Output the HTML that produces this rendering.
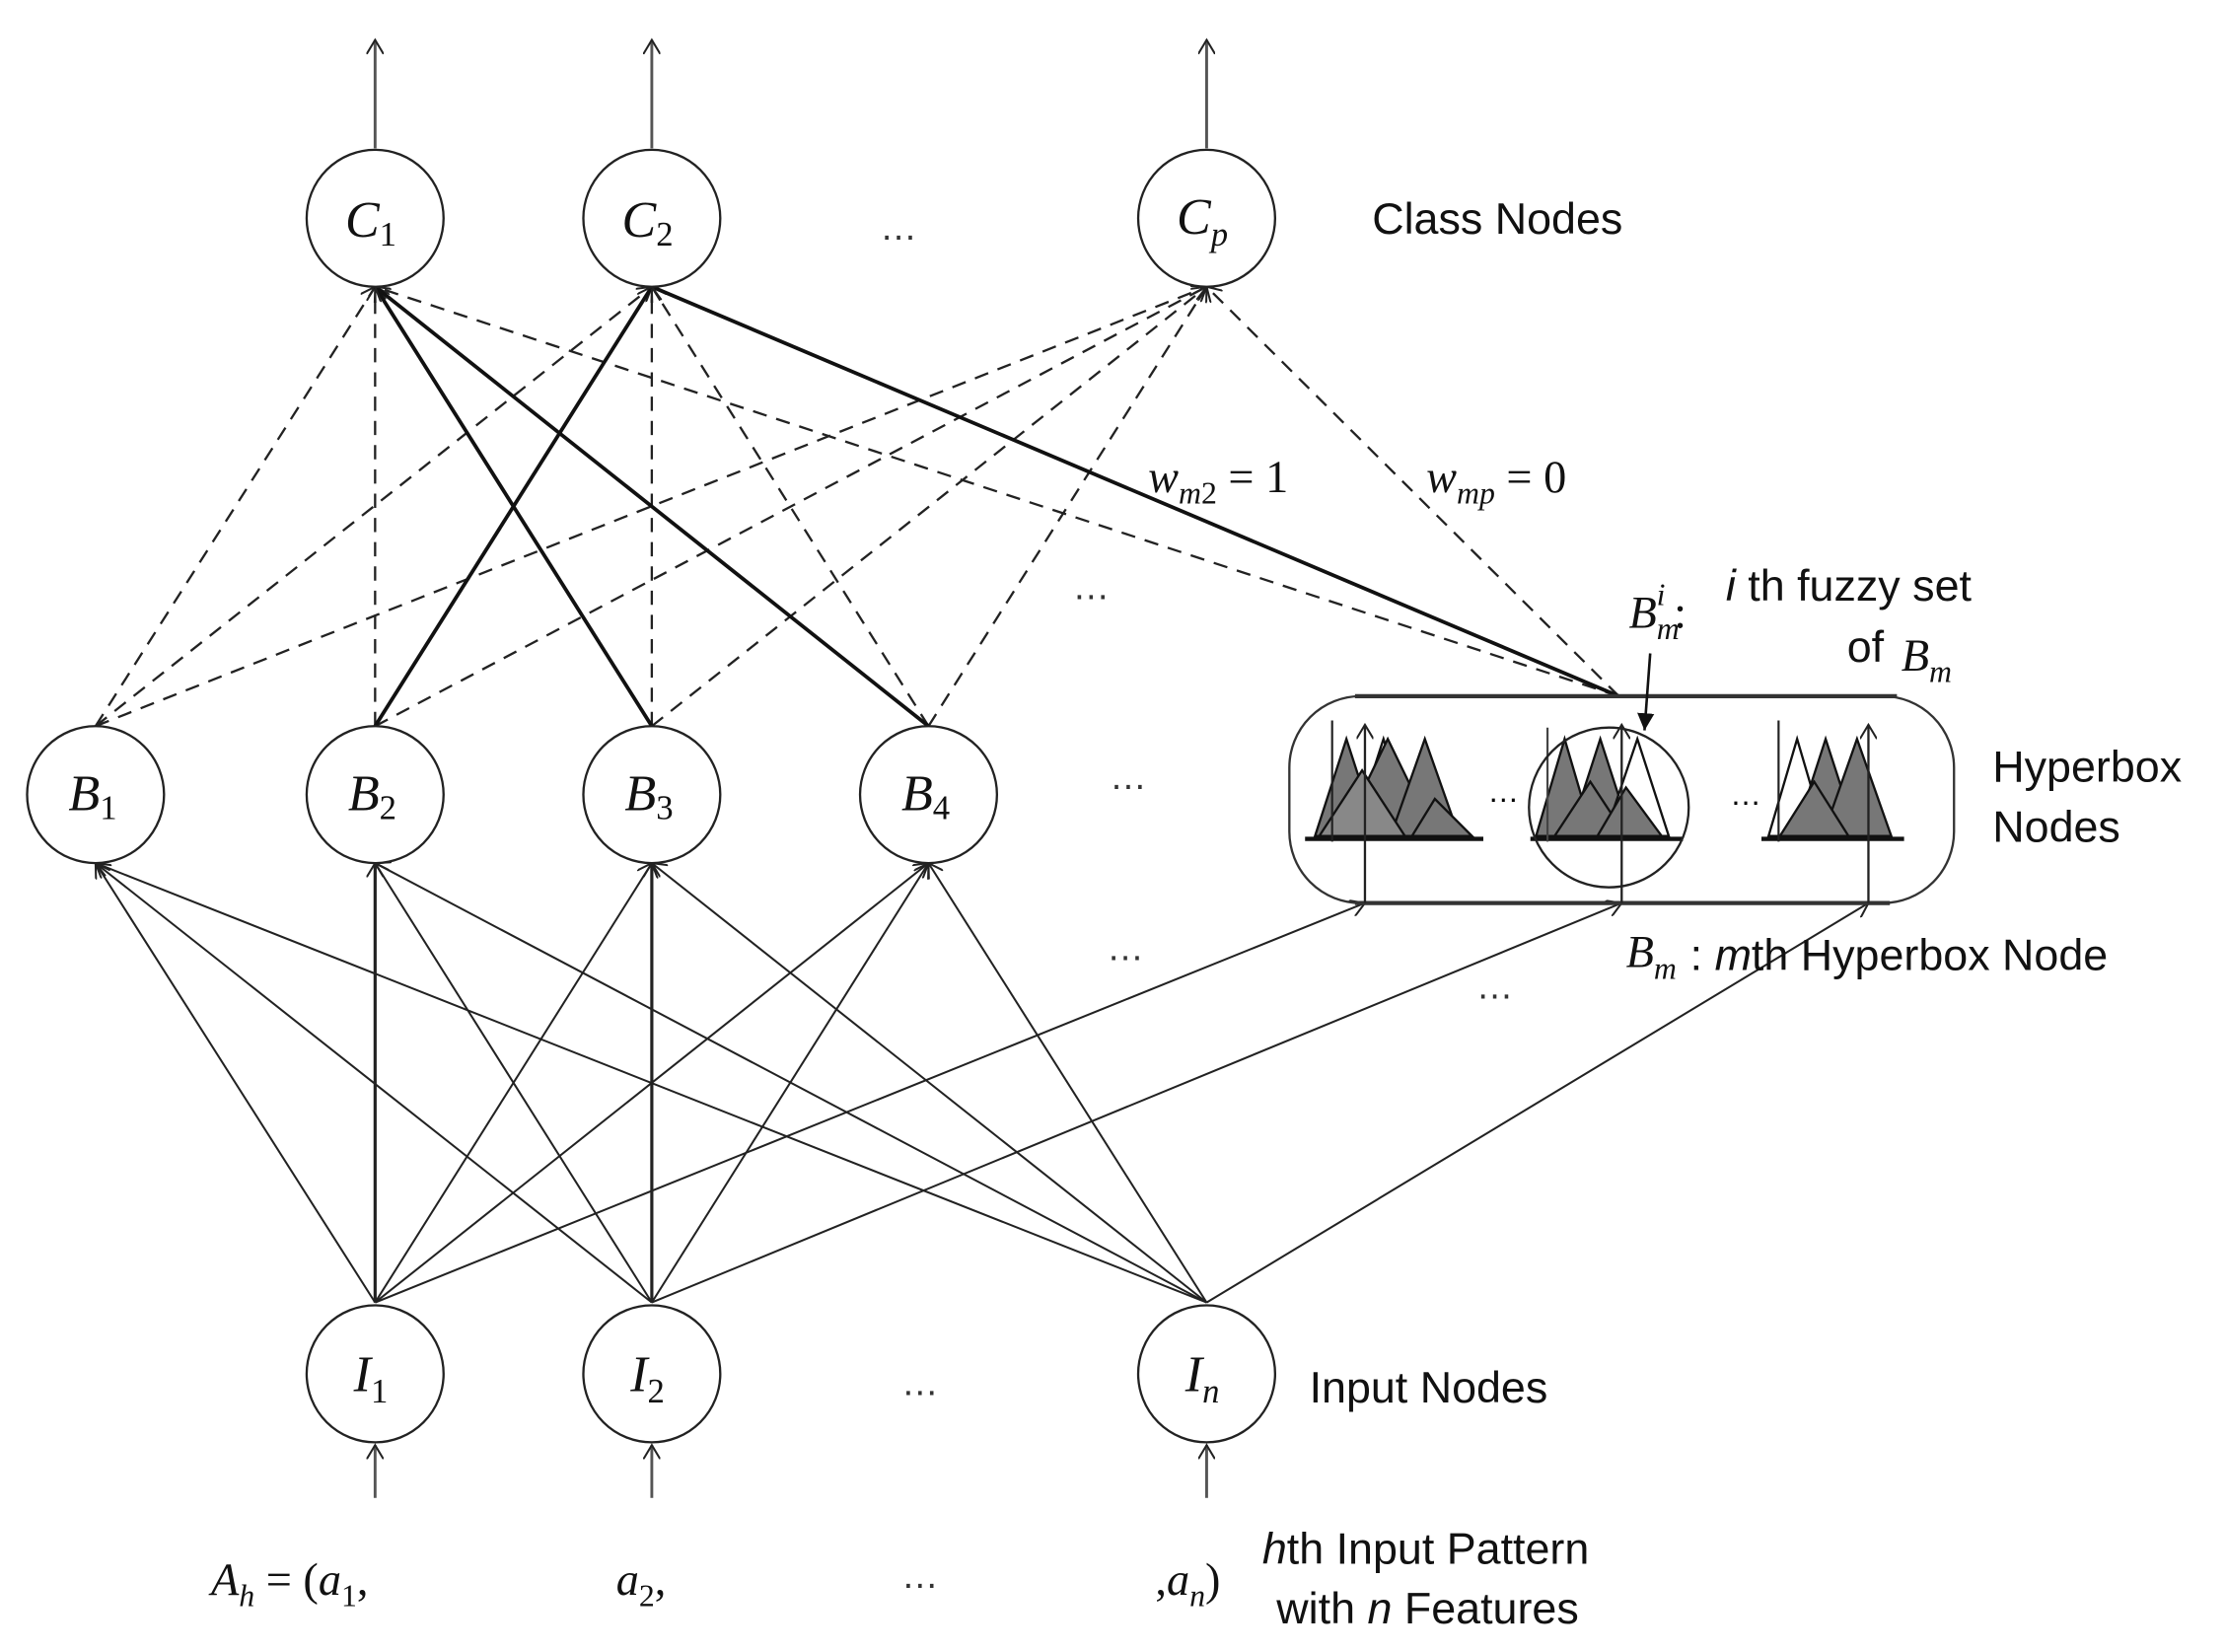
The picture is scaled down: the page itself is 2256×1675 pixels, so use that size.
<!DOCTYPE html>
<html><head><meta charset="utf-8"><style>
html,body{margin:0;padding:0;background:#fff;}
svg{display:block;}
text{font-family:"Liberation Sans",sans-serif;}
text.n,text.m{font-family:"Liberation Serif",serif;font-style:italic;}
.u{font-style:normal;}
</style></head><body>
<svg width="2256" height="1675" viewBox="0 0 1560 1158" preserveAspectRatio="none" xmlns="http://www.w3.org/2000/svg">
<defs>
<marker id="a" markerWidth="12" markerHeight="12" refX="10" refY="6" orient="auto" markerUnits="userSpaceOnUse">
<path d="M0,0 L10,6 L0,12" fill="none" stroke="#222" stroke-width="1.4"/></marker>
<marker id="f" markerWidth="14" markerHeight="12" refX="12" refY="6" orient="auto" markerUnits="userSpaceOnUse">
<path d="M0,0 L12,6 L0,12 z" fill="#111"/></marker>
</defs>
<rect width="1560" height="1158" fill="#fff"/>
<g stroke="#555" stroke-width="2" fill="none" marker-end="url(#a)">
<line x1="263" y1="104" x2="263" y2="28"/>
<line x1="457" y1="104" x2="457" y2="28"/>
<line x1="846" y1="104" x2="846" y2="28"/>
<line x1="263" y1="1050" x2="263" y2="1013"/>
<line x1="457" y1="1050" x2="457" y2="1013"/>
<line x1="846" y1="1050" x2="846" y2="1013"/>
</g>
<g stroke="#222" stroke-width="1.6" stroke-dasharray="10,7" fill="none" marker-end="url(#a)">
<line x1="67" y1="509" x2="263" y2="201"/>
<line x1="67" y1="509" x2="457" y2="201"/>
<line x1="67" y1="509" x2="846" y2="201"/>
<line x1="263" y1="509" x2="263" y2="201"/>
<line x1="263" y1="509" x2="846" y2="201"/>
<line x1="457" y1="509" x2="457" y2="201"/>
<line x1="457" y1="509" x2="846" y2="201"/>
<line x1="651" y1="509" x2="457" y2="201"/>
<line x1="651" y1="509" x2="846" y2="201"/>
<line x1="1135" y1="488" x2="263" y2="201"/>
<line x1="1135" y1="488" x2="846" y2="201"/>
</g>
<g stroke="#111" stroke-width="2.6" fill="none" marker-end="url(#a)">
<line x1="263" y1="509" x2="457" y2="201"/>
<line x1="457" y1="509" x2="263" y2="201"/>
<line x1="651" y1="509" x2="263" y2="201"/>
<line x1="1135" y1="488" x2="457" y2="201"/>
</g>
<g stroke="#222" stroke-width="1.4" fill="none" marker-end="url(#a)">
<line x1="263" y1="913" x2="67" y2="605"/>
<line x1="263" y1="913" x2="263" y2="605" stroke-width="2.2"/>
<line x1="263" y1="913" x2="457" y2="605"/>
<line x1="263" y1="913" x2="651" y2="605"/>
<line x1="263" y1="913" x2="957" y2="633"/>
<line x1="457" y1="913" x2="67" y2="605"/>
<line x1="457" y1="913" x2="263" y2="605"/>
<line x1="457" y1="913" x2="457" y2="605" stroke-width="2.2"/>
<line x1="457" y1="913" x2="651" y2="605"/>
<line x1="457" y1="913" x2="1137" y2="633"/>
<line x1="846" y1="913" x2="67" y2="605"/>
<line x1="846" y1="913" x2="263" y2="605"/>
<line x1="846" y1="913" x2="457" y2="605"/>
<line x1="846" y1="913" x2="651" y2="605"/>
<line x1="846" y1="913" x2="1310" y2="633"/>
</g>
<g stroke="#222" stroke-width="1.6" fill="#fff">
<circle cx="263" cy="153" r="48"/><circle cx="457" cy="153" r="48"/><circle cx="846" cy="153" r="48"/>
<circle cx="67" cy="557" r="48"/><circle cx="263" cy="557" r="48"/><circle cx="457" cy="557" r="48"/><circle cx="651" cy="557" r="48"/>
<circle cx="263" cy="963" r="48"/><circle cx="457" cy="963" r="48"/><circle cx="846" cy="963" r="48"/>
</g>
<g font-size="36" text-anchor="middle" fill="#111">
<text x="260" y="166" class="n">C<tspan class="u" font-size="24" dy="6">1</tspan></text>
<text x="454" y="166" class="n">C<tspan class="u" font-size="24" dy="6">2</tspan></text>
<text x="843" y="164" class="n">C<tspan font-size="24" dy="8">p</tspan></text>
<text x="65" y="568" class="n">B<tspan class="u" font-size="24" dy="6">1</tspan></text>
<text x="261" y="568" class="n">B<tspan class="u" font-size="24" dy="6">2</tspan></text>
<text x="455" y="568" class="n">B<tspan class="u" font-size="24" dy="6">3</tspan></text>
<text x="649" y="568" class="n">B<tspan class="u" font-size="24" dy="6">4</tspan></text>
<text x="260" y="975" class="n">I<tspan class="u" font-size="24" dy="8">1</tspan></text>
<text x="454" y="975" class="n">I<tspan class="u" font-size="24" dy="8">2</tspan></text>
<text x="843" y="975" class="n">I<tspan font-size="24" dy="8">n</tspan></text>
</g>
<rect x="904" y="488" width="466" height="145" rx="50" ry="50" fill="none" stroke="#333" stroke-width="1.6"/>
<line x1="950" y1="488" x2="1330" y2="488" stroke="#333" stroke-width="3"/>
<line x1="950" y1="633" x2="1325" y2="633" stroke="#333" stroke-width="3"/>
<g stroke="#111" stroke-width="1.6" fill="#777">
<path d="M922,586 L944,518 L966,586 Z"/><path d="M948,586 L970,518 L992,586 Z" fill="#fff"/>
<path d="M940,586 L973,518 L1006,586 Z"/><path d="M975,586 L999,518 L1023,586 Z"/>
<path d="M925,586 L955,540 L985,586 Z" fill="#888"/><path d="M990,586 L1006,560 L1032,586 Z"/>
<path d="M1077,586 L1097,518 L1117,586 Z"/><path d="M1100,586 L1122,518 L1144,586 Z"/>
<path d="M1125,586 L1148,518 L1170,586 Z" fill="#fff"/><path d="M1090,586 L1115,548 L1140,586 Z"/>
<path d="M1120,586 L1140,552 L1165,586 Z"/>
<path d="M1240,586 L1260,518 L1280,586 Z" fill="#fff"/><path d="M1258,586 L1280,518 L1302,586 Z"/>
<path d="M1278,586 L1302,518 L1326,586 Z"/><path d="M1248,586 L1272,548 L1296,586 Z"/>
</g>
<g stroke="#111" stroke-width="3">
<line x1="915" y1="588" x2="1040" y2="588"/>
<line x1="1073" y1="588" x2="1180" y2="588"/>
<line x1="1235" y1="588" x2="1335" y2="588"/>
</g>
<g stroke="#222" stroke-width="1.6" fill="none" marker-end="url(#a)">
<line x1="957" y1="633" x2="957" y2="508"/>
<line x1="1137" y1="633" x2="1137" y2="508"/>
<line x1="1310" y1="633" x2="1310" y2="508"/>
</g>
<line x1="934" y1="590" x2="934" y2="505" stroke="#222" stroke-width="1.5"/>
<line x1="1085" y1="590" x2="1085" y2="510" stroke="#444" stroke-width="1.5"/>
<line x1="1247" y1="590" x2="1247" y2="505" stroke="#222" stroke-width="1.5"/>
<circle cx="1128" cy="566" r="56" fill="none" stroke="#222" stroke-width="1.6"/>
<line x1="1157" y1="458" x2="1153" y2="512" stroke="#111" stroke-width="1.8" marker-end="url(#f)"/>
<text x="1043" y="562" font-size="22">…</text><text x="1213" y="564" font-size="22">…</text>
<g font-size="31" fill="#111">
<text x="962" y="164">Class Nodes</text>
<text x="1397" y="548">Hyperbox</text>
<text x="1397" y="590">Nodes</text>
<text x="918" y="983">Input Nodes</text>
<text x="1210" y="421"><tspan font-style="italic">i</tspan> th fuzzy set</text>
<text x="1295" y="464">of</text>
<text x="1185" y="680">: <tspan font-style="italic">m</tspan>th Hyperbox Node</text>
<text x="885" y="1096"><tspan font-style="italic">h</tspan>th Input Pattern</text>
<text x="895" y="1138">with <tspan font-style="italic">n</tspan> Features</text>
</g>
<g font-size="32" fill="#111">
<text class="m" x="805" y="345">w<tspan font-size="22" dy="8">m</tspan><tspan class="u" font-size="22">2</tspan><tspan dy="-8" class="u"> = 1</tspan></text>
<text class="m" x="1000" y="345">w<tspan font-size="22" dy="8">mp</tspan><tspan dy="-8" class="u"> = 0</tspan></text>
<text class="m" x="1142" y="440">B<tspan font-size="22" dy="8">m</tspan><tspan font-size="22" dx="-16" dy="-24">i</tspan><tspan class="u" dx="6" dy="16">:</tspan></text>
<text class="m" x="1333" y="470">B<tspan font-size="22" dy="8">m</tspan></text>
<text class="m" x="1140" y="678">B<tspan font-size="22" dy="8">m</tspan></text>
<text class="m" x="148" y="1118">A<tspan font-size="22" dy="8">h</tspan><tspan class="u" dy="-8"> = (</tspan>a<tspan class="u" font-size="22" dy="8">1</tspan><tspan class="u" dy="-8">,</tspan></text>
<text class="m" x="432" y="1118">a<tspan class="u" font-size="22" dy="8">2</tspan><tspan class="u" dy="-8">,</tspan></text>
<text class="m" x="810" y="1118"><tspan class="u">,</tspan>a<tspan font-size="22" dy="8">n</tspan><tspan class="u" dy="-8">)</tspan></text>
</g>
<g font-size="26" fill="#333">
<text x="617" y="168">…</text>
<text x="752" y="420">…</text>
<text x="778" y="553">…</text>
<text x="776" y="673">…</text>
<text x="1035" y="700">…</text>
<text x="632" y="978">…</text>
<text x="632" y="1113">…</text>
</g>
</svg>
</body></html>
